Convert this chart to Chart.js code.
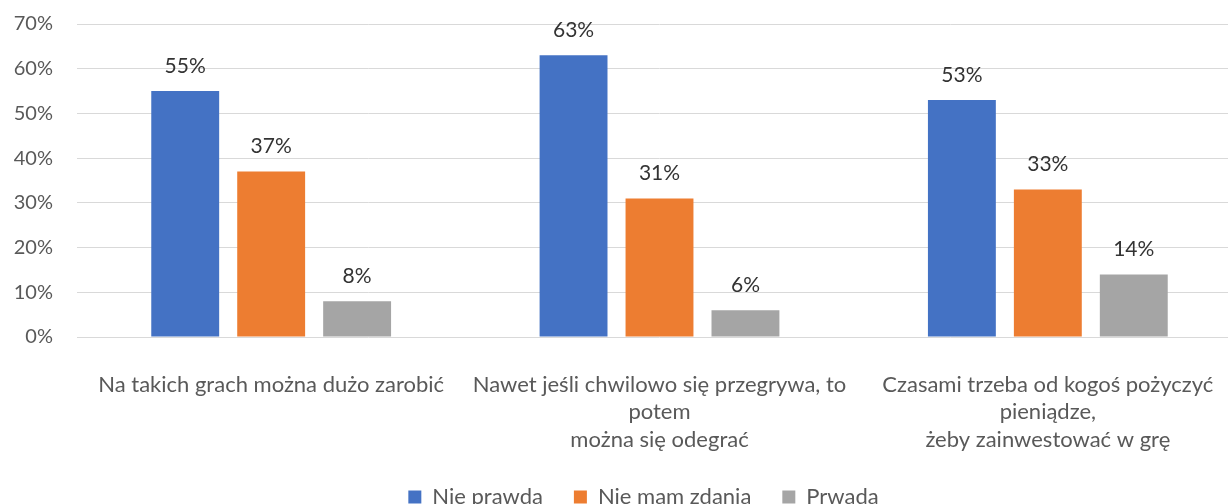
<!DOCTYPE html>
<html>
<head>
<meta charset="utf-8">
<script src="https://cdn.jsdelivr.net/npm/chart.js@4.4.1/dist/chart.umd.min.js"></script>
<style>
  html, body { margin: 0; padding: 0; background: #fff; overflow: hidden; }
  #wrap { width: 1228px; height: 504px; overflow: hidden; position: relative; }
  #box { width: 1287px; height: 518px; position: absolute; left: 0; top: 0; }
</style>
</head>
<body>
<div id="wrap"><div id="box"><canvas id="opinionChart"></canvas></div></div>
<script>
const categories = [
    'Na takich grach można dużo zarobić',
    ['Nawet jeśli chwilowo się przegrywa, to', 'potem', 'można się odegrać'],
    ['Czasami trzeba od kogoś pożyczyć', 'pieniądze,', 'żeby zainwestować w grę']
]
const seriesNames = ['Nie prawda', 'Nie mam zdania', 'Prwada']
const niePrawda = [55, 63, 53]
const nieMamZdania = [37, 31, 33]
const prwada = [8, 6, 14]
const seriesColors = ['#4472C4', '#ED7D31', '#A5A5A5']

const FONT = 'Lato, "Open Sans", sans-serif'

// values written above each bar
const valueLabels = {
    id: 'valueLabels',
    afterDatasetsDraw(chart){
        const ctx = chart.ctx
        ctx.save()
        ctx.font = '21px ' + FONT
        ctx.fillStyle = '#333333'
        ctx.textAlign = 'center'
        ctx.textBaseline = 'middle'
        chart.data.datasets.forEach((ds, i) => {
            chart.getDatasetMeta(i).data.forEach((bar, j) => {
                ctx.fillText(ds.data[j] + '%', bar.x, bar.y - 25)
            })
        })
        ctx.restore()
    }
}

const data = {
    labels: categories,
    datasets: [niePrawda, nieMamZdania, prwada].map((vals, i) => ({
        label: seriesNames[i],
        data: vals,
        backgroundColor: seriesColors[i],
        borderWidth: 0,
        barPercentage: 0.79,
        categoryPercentage: 0.664
    }))
}

const config = {
    type: 'bar',
    data,
    plugins: [valueLabels],
    options: {
        responsive: true,
        maintainAspectRatio: false,
        animation: false,
        layout: { padding: { top: 24, right: 0, left: 0, bottom: 0 } },
        plugins: {
            tooltip: { enabled: false },
            legend: {
                position: 'bottom',
                labels: {
                    font: { family: FONT, size: 22 },
                    color: '#595959',
                    boxWidth: 13,
                    boxHeight: 13,
                    padding: 31
                }
            }
        },
        scales: {
            x: {
                grid: { display: false },
                border: { display: false },
                ticks: {
                    font: { family: FONT, size: 22, lineHeight: 1.25 },
                    color: '#595959',
                    padding: 26,
                    maxRotation: 0,
                    autoSkip: false
                },
                afterFit(scale){ scale.height = 118 }
            },
            y: {
                min: 0,
                max: 70,
                // invisible tick marks give the gap between labels and plot
                grid: { color: '#d9d9d9', drawTicks: true, tickLength: 24, tickColor: 'transparent' },
                border: { display: false },
                ticks: {
                    stepSize: 10,
                    font: { family: FONT, size: 20 },
                    color: '#595959',
                    padding: 0,
                    callback: v => v + '%'
                },
                afterFit(scale){ scale.width = 77 }
            },
            // empty right margin of the plot, keeps legend centred on the whole chart
            yRight: {
                position: 'right',
                grid: { display: false },
                border: { display: false },
                ticks: { display: false },
                afterFit(scale){ scale.width = 45 }
            }
        }
    }
}

new Chart(document.getElementById('opinionChart'), config)
</script>
</body>
</html>
